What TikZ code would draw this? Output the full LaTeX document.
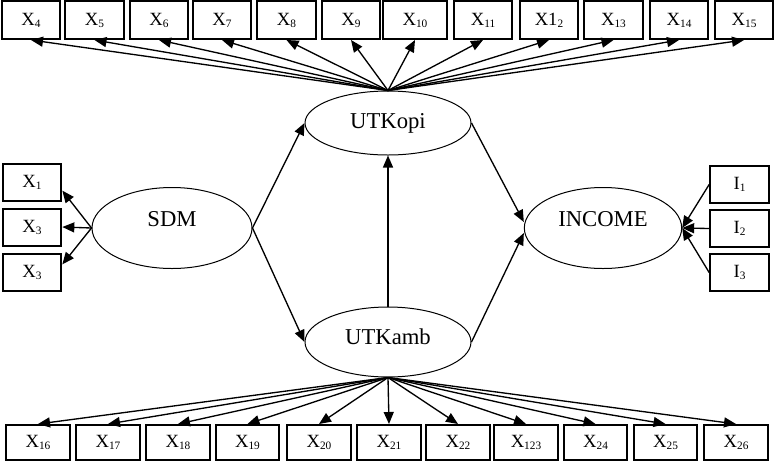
\documentclass[tikz,border=0pt]{standalone}
\usepackage{fontspec}
\setmainfont{Liberation Serif}
\usetikzlibrary{shapes.geometric,arrows.meta,calc}

\tikzset{every picture/.style={line width=0.75pt}}
\tikzset{
	obs box/.style={draw, rectangle, line width=1.5pt, inner sep=0pt, minimum width=44pt, minimum height=28.5pt, font=\fontsize{14}{16}\selectfont},
	low box/.style={obs box, minimum width=47.5pt, minimum height=26.25pt},
	latent var/.style={draw, ellipse, inner sep=0pt, font=\fontsize{17}{20}\selectfont},
	load arrow/.style={-{Triangle[length=9pt,width=7.5pt]}, line width=1pt}
}
\newcommand{\lowidx}[1]{\raisebox{-1.5pt}{\fontsize{8.5}{9}\selectfont #1}}

\begin{document}
\begin{tikzpicture}[x=0.75pt,y=0.75pt,yscale=-1,xscale=1]
	\useasboundingbox (0,0) rectangle (774,461);

	%Shape: Ellipse
	\node [latent var, minimum width=124.5pt, minimum height=48pt] (utkopi) at (388,123) {UTKopi};
	%Shape: Ellipse
	\node [latent var, minimum width=124.5pt, minimum height=52.5pt, text height=11.6pt, text depth=8pt] (utkamb) at (388,342) {UTKamb};
	%Shape: Ellipse
	\node [latent var, minimum width=120pt, minimum height=60.75pt, text height=11.5pt, text depth=14pt] (sdm) at (172,228) {SDM};
	%Shape: Ellipse
	\node [latent var, minimum width=118pt, minimum height=60.75pt, text height=11.5pt, text depth=14pt] (income) at (603,228) {INCOME};

	%Shape: Rectangle (top row)
	\node [obs box] (x4) at (31,20) {X\lowidx{4}};
	\node [obs box] (x5) at (94.5,20) {X\lowidx{5}};
	\node [obs box] (x6) at (159,20) {X\lowidx{6}};
	\node [obs box] (x7) at (222,20) {X\lowidx{7}};
	\node [obs box] (x8) at (286.5,20) {X\lowidx{8}};
	\node [obs box] (x9) at (351,20) {X\lowidx{9}};
	\node [obs box, minimum width=48pt] (x10) at (415,20) {X\lowidx{10}};
	\node [obs box] (x11) at (483,20) {X\lowidx{11}};
	\node [obs box] (x12) at (549,20) {X1\lowidx{2}};
	\node [obs box] (x13) at (613.5,20) {X\lowidx{13}};
	\node [obs box] (x14) at (679,20) {X\lowidx{14}};
	\node [obs box] (x15) at (744,20) {X\lowidx{15}};

	%Shape: Rectangle (left column)
	\node [obs box, minimum height=27.75pt] (x1) at (32,182.5) {X\lowidx{1}};
	\node [obs box, minimum height=27.75pt] (x3a) at (32,227) {X\lowidx{3}};
	\node [obs box, minimum height=27.75pt] (x3b) at (32,272.5) {X\lowidx{3}};

	%Shape: Rectangle (right column)
	\node [obs box, minimum height=27.75pt] (i1) at (739.5,184.5) {I\lowidx{1}};
	\node [obs box, minimum height=27.75pt] (i2) at (739.5,228.5) {I\lowidx{2}};
	\node [obs box, minimum height=27.75pt] (i3) at (739.5,272.5) {I\lowidx{3}};

	%Shape: Rectangle (bottom row)
	\node [low box] (x16) at (38,442.5) {X\lowidx{16}};
	\node [low box] (x17) at (108,442.5) {X\lowidx{17}};
	\node [low box] (x18) at (178,442.5) {X\lowidx{18}};
	\node [low box] (x19) at (247.5,442.5) {X\lowidx{19}};
	\node [low box] (x20) at (319,442.5) {X\lowidx{20}};
	\node [low box] (x21) at (389,442.5) {X\lowidx{21}};
	\node [low box] (x22) at (458,442.5) {X\lowidx{22}};
	\node [low box] (x23) at (526,442.5) {X\lowidx{123}};
	\node [low box] (x24) at (595.5,442.5) {X\lowidx{24}};
	\node [low box] (x25) at (665.5,442.5) {X\lowidx{25}};
	\node [low box] (x26) at (736,442.5) {X\lowidx{26}};

	%Arrows: UTKopi to top row
	\draw [load arrow] (utkopi.north) -- (x4.south);
	\draw [load arrow] (utkopi.north) -- (x5.south);
	\draw [load arrow] (utkopi.north) -- (x6.south);
	\draw [load arrow] (utkopi.north) -- (x7.south);
	\draw [load arrow] (utkopi.north) -- (x8.south);
	\draw [load arrow] (utkopi.north) -- (x9.south);
	\draw [load arrow] (utkopi.north) -- (x10.south);
	\draw [load arrow] (utkopi.north) -- (x11.south);
	\draw [load arrow] (utkopi.north) -- (x12.south);
	\draw [load arrow] (utkopi.north) -- (x13.south);
	\draw [load arrow] (utkopi.north) -- (x14.south);
	\draw [load arrow] (utkopi.north) -- (x15.south);

	%Arrows: UTKamb to bottom row
	\draw [load arrow] (utkamb.south) -- (x16.north);
	\draw [load arrow] (utkamb.south) -- (x17.north);
	\draw [load arrow] (utkamb.south) -- (x18.north);
	\draw [load arrow] (utkamb.south) -- (x19.north);
	\draw [load arrow] (utkamb.south) -- (x20.north);
	\draw [load arrow] (utkamb.south) -- (x21.north);
	\draw [load arrow] (utkamb.south) -- (x22.north);
	\draw [load arrow] (utkamb.south) -- (x23.north);
	\draw [load arrow] (utkamb.south) -- (x24.north);
	\draw [load arrow] (utkamb.south) -- (x25.north);
	\draw [load arrow] (utkamb.south) -- (x26.north);

	%Arrows: SDM to left column
	\draw [load arrow] (sdm.west) -- (x1.-15);
	\draw [load arrow] (sdm.west) -- (x3a.east);
	\draw [load arrow] (sdm.west) -- (x3b.15);

	%Arrows: right column to INCOME
	\draw [load arrow] (i1.west) -- (income.east);
	\draw [load arrow] (i2.west) -- (income.east);
	\draw [load arrow] (i3.west) -- (income.east);

	%Arrows: structural paths
	\draw [load arrow] (sdm.east) -- (utkopi.west);
	\draw [load arrow] (sdm.east) -- (utkamb.west);
	\draw [load arrow] (utkamb.north) -- (utkopi.south);
	\draw [load arrow] (utkopi.east) -- ($(income.west)+(0,-6)$);
	\draw [load arrow] (utkamb.east) -- ($(income.west)+(0,5)$);

\end{tikzpicture}
\end{document}
